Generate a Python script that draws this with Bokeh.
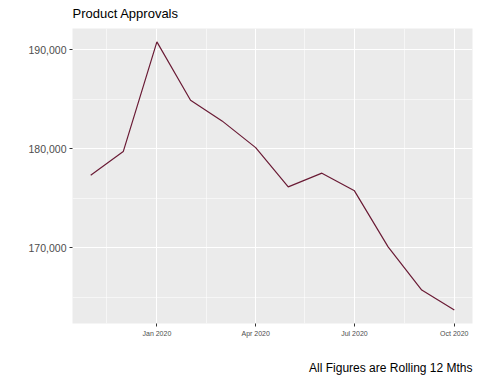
import pandas as pd
from bokeh.plotting import figure
from bokeh.models import (FixedTicker, NumeralTickFormatter, DatetimeTickFormatter,
                          Range1d, Title, LinearAxis, CustomJSTickFormatter)
from bokeh.embed import file_html
from bokeh.resources import INLINE

# ---- data ----
months = ["2019-11-01", "2019-12-01", "2020-01-01", "2020-02-01", "2020-03-01", "2020-04-01",
          "2020-05-01", "2020-06-01", "2020-07-01", "2020-08-01", "2020-09-01", "2020-10-01"]
approvals = [177340, 179730, 190810, 184920, 182830, 180130,
             176160, 177545, 175760, 170100, 165730, 163710]
y_ticks = [170000, 180000, 190000]
y_minor_ticks = [165000, 175000, 185000]
x_tick_dates = ["2020-01-01", "2020-04-01", "2020-07-01", "2020-10-01"]
x_minor_dates = ["2019-11-16", "2020-02-15 12:00", "2020-05-16", "2020-08-16"]
title_text = "Product Approvals"
caption_text = "All Figures are Rolling 12 Mths"

FONT = "Liberation Sans"
LINE_COLOR = "#6A1B35"

W, H = 480, 384
LEFT, RIGHT, TOP, BOTTOM = 72, 8, 28, 61

def to_ms(s):
    return (pd.Timestamp(s) - pd.Timestamp("1970-01-01")) / pd.Timedelta(milliseconds=1)

x = [to_ms(m) for m in months]
xmin, xmax = min(x), max(x)
ymin, ymax = min(approvals), max(approvals)
xpad = (xmax - xmin) * 0.05
ypad = (ymax - ymin) * 0.05

p = figure(width=W, height=H, x_axis_type="datetime",
           output_backend="svg", toolbar_location=None,
           x_range=Range1d(xmin - xpad, xmax + xpad),
           y_range=Range1d(ymin - ypad, ymax + ypad),
           min_border_left=LEFT, min_border_right=RIGHT,
           min_border_top=TOP, min_border_bottom=BOTTOM,
           background_fill_color="#EBEBEB", border_fill_color="white",
           outline_line_color=None)

p.line(x, approvals, line_color=LINE_COLOR, line_width=1.2)

# title
p.title.text = title_text
p.title.text_font = FONT
p.title.text_font_size = "13px"
p.title.text_font_style = "normal"
p.title.text_color = "black"
p.title.align = "left"
p.title.vertical_align = "top"
p.title.standoff = 11

# spacer: an invisible axis (white tick on white border, empty label)
# between the x axis and the caption
p.add_layout(LinearAxis(ticker=FixedTicker(ticks=[to_ms(x_tick_dates[1])]),
                        formatter=CustomJSTickFormatter(code="return ''"),
                        axis_line_color=None,
                        major_tick_line_color="white", minor_tick_line_color=None,
                        major_tick_in=0, major_tick_out=14, minor_tick_out=0,
                        major_label_standoff=0,
                        major_label_text_font_size="1px"), "below")

# caption
p.add_layout(Title(text=caption_text, align="right", text_font=FONT,
                   text_font_size="12px", text_font_style="normal",
                   text_color="black", standoff=10), "below")

# axes
p.xaxis[0].ticker = FixedTicker(ticks=[to_ms(d) for d in x_tick_dates],
                                minor_ticks=[to_ms(d) for d in x_minor_dates])
p.xaxis[0].formatter = DatetimeTickFormatter(days="%b %Y", months="%b %Y", years="%b %Y")
p.yaxis[0].ticker = FixedTicker(ticks=y_ticks, minor_ticks=y_minor_ticks)
p.yaxis[0].formatter = NumeralTickFormatter(format="0,0")

for ax in (p.xaxis[0], p.yaxis[0]):
    ax.axis_line_color = None
    ax.major_tick_line_color = "#333333"
    ax.major_tick_line_width = 1
    ax.major_tick_in = 0
    ax.major_tick_out = 3
    ax.minor_tick_line_color = None
    ax.major_label_text_color = "#4D4D4D"
    ax.major_label_text_font = FONT

p.yaxis[0].major_label_text_font_size = "10.5px"
p.yaxis[0].major_label_standoff = 2
p.xaxis[0].major_label_text_font_size = "7px"
p.xaxis[0].major_label_standoff = 2

for g in (p.xgrid[0], p.ygrid[0]):
    g.grid_line_color = "white"
    g.grid_line_width = 1.1
    g.minor_grid_line_color = "white"
    g.minor_grid_line_width = 0.55

open("out.html", "w").write(file_html(p, INLINE))
